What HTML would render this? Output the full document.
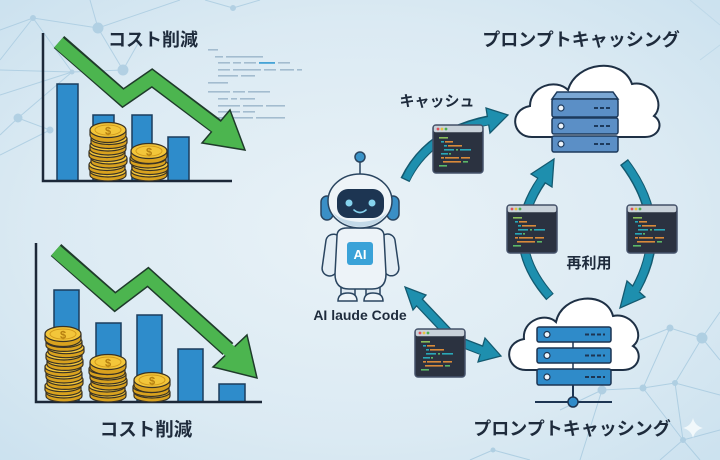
<!DOCTYPE html>
<html><head><meta charset="utf-8">
<style>
html,body{margin:0;padding:0;background:#dcebf4;}
svg{display:block;}
.t{font-family:"Liberation Sans","Noto Sans CJK JP",sans-serif;font-weight:bold;fill:#1e2b3c;}
</style></head>
<body>
<svg width="720" height="460" viewBox="0 0 720 460" xmlns="http://www.w3.org/2000/svg">
<defs>
<radialGradient id="bg" cx="50%" cy="50%" r="75%">
<stop offset="0" stop-color="#e9f2f7"/>
<stop offset="0.6" stop-color="#dbeaf3"/>
<stop offset="1" stop-color="#c9e0ee"/>
</radialGradient>
<g id="coin">
<ellipse cx="0" cy="4" rx="18" ry="6" fill="#d9a21e" stroke="#3a3325" stroke-width="1.2"/>
<rect x="-18" y="0" width="36" height="4" fill="#d9a21e"/>
<line x1="-18" y1="0" x2="-18" y2="4" stroke="#3a3325" stroke-width="1.2"/>
<line x1="18" y1="0" x2="18" y2="4" stroke="#3a3325" stroke-width="1.2"/>
<ellipse cx="0" cy="0" rx="18" ry="6" fill="#f3c63a" stroke="#3a3325" stroke-width="1.2"/>
</g>
<g id="ctop">
<ellipse cx="0" cy="5" rx="18" ry="7.5" fill="#d9a21e" stroke="#3a3325" stroke-width="1.2"/>
<rect x="-18" y="0" width="36" height="5" fill="#d9a21e"/>
<line x1="-18" y1="0" x2="-18" y2="5" stroke="#3a3325" stroke-width="1.2"/>
<line x1="18" y1="0" x2="18" y2="5" stroke="#3a3325" stroke-width="1.2"/>
<ellipse cx="0" cy="0" rx="18" ry="7.5" fill="#f3c63a" stroke="#3a3325" stroke-width="1.2"/>
<ellipse cx="0" cy="0" rx="13" ry="5" fill="none" stroke="#d29a1c" stroke-width="1"/>
</g>
<g id="win">
<rect x="0" y="0" width="50" height="48" rx="3" fill="#2b3240" stroke="#45526a" stroke-width="1.5"/>
<rect x="0.8" y="0.8" width="48.4" height="6.5" rx="2" fill="#c8d1d9"/>
<circle cx="5" cy="4" r="1.4" fill="#e0525a"/>
<circle cx="9" cy="4" r="1.4" fill="#e8c040"/>
<circle cx="13" cy="4" r="1.4" fill="#4cb050"/>
<rect x="6" y="12" width="9" height="1.6" fill="#8bbf5a"/>
<rect x="8" y="16" width="3" height="1.6" fill="#2aa8b8"/><rect x="12" y="16" width="8" height="1.6" fill="#d98a3a"/>
<rect x="11" y="20" width="3" height="1.6" fill="#2aa8b8"/><rect x="15" y="20" width="14" height="1.6" fill="#d98a3a"/>
<rect x="11" y="24" width="10" height="1.6" fill="#2aa8b8"/><rect x="23" y="24" width="2" height="1.6" fill="#5cb868"/><rect x="27" y="24" width="11" height="1.6" fill="#2aa8b8"/>
<rect x="8" y="28" width="7" height="1.6" fill="#2aa8b8"/><rect x="16" y="28" width="2" height="1.6" fill="#5cb868"/>
<rect x="8" y="32" width="3" height="1.6" fill="#d98a3a"/><rect x="12" y="32" width="14" height="1.6" fill="#d98a3a"/><rect x="28" y="32" width="9" height="1.6" fill="#d98a3a"/>
<rect x="10" y="36" width="18" height="1.6" fill="#d98a3a"/><rect x="30" y="36" width="5" height="1.6" fill="#5cb868"/>
<rect x="6" y="40" width="8" height="1.6" fill="#5cb868"/>
</g>
</defs>

<rect width="720" height="460" fill="url(#bg)"/>

<!-- network top-left -->
<g stroke="#a9cbe0" stroke-width="1" fill="#a9cbe0" opacity="0.8">
<line x1="0" y1="30" x2="33" y2="18"/><line x1="33" y1="18" x2="98" y2="28"/><line x1="98" y1="28" x2="180" y2="0"/>
<line x1="33" y1="18" x2="0" y2="60"/><line x1="98" y1="28" x2="123" y2="70"/><line x1="98" y1="28" x2="90" y2="0"/>
<line x1="123" y1="70" x2="72" y2="72"/><line x1="72" y1="72" x2="0" y2="95"/><line x1="72" y1="72" x2="18" y2="118"/>
<line x1="18" y1="118" x2="50" y2="130"/><line x1="18" y1="118" x2="0" y2="135"/><line x1="123" y1="70" x2="140" y2="40"/>
<line x1="0" y1="70" x2="72" y2="72"/><line x1="50" y1="130" x2="0" y2="155"/><line x1="33" y1="18" x2="72" y2="72"/>
<line x1="233" y1="8" x2="205" y2="0"/><line x1="233" y1="8" x2="260" y2="0"/>
<circle cx="33" cy="18" r="2.5"/><circle cx="98" cy="28" r="5"/><circle cx="123" cy="70" r="5"/><circle cx="72" cy="72" r="2"/>
<circle cx="18" cy="118" r="4"/><circle cx="50" cy="130" r="3"/><circle cx="233" cy="8" r="2.5"/>
</g>
<!-- network top-right faint -->
<g stroke="#b7d4e6" stroke-width="1" opacity="0.7">
<line x1="690" y1="0" x2="720" y2="25"/><line x1="700" y1="60" x2="720" y2="45"/>
</g>
<!-- network bottom-right -->
<g stroke="#a9cbe0" stroke-width="1" fill="#a9cbe0" opacity="0.85">
<line x1="670" y1="328" x2="702" y2="338"/><line x1="670" y1="328" x2="643" y2="388"/><line x1="702" y1="338" x2="720" y2="312"/>
<line x1="702" y1="338" x2="675" y2="383"/><line x1="675" y1="383" x2="720" y2="395"/><line x1="643" y1="388" x2="675" y2="383"/>
<line x1="602" y1="390" x2="643" y2="388"/><line x1="643" y1="388" x2="683" y2="440"/><line x1="683" y1="440" x2="720" y2="430"/>
<line x1="683" y1="440" x2="660" y2="460"/><line x1="675" y1="383" x2="683" y2="440"/><line x1="602" y1="390" x2="580" y2="460"/>
<line x1="702" y1="338" x2="720" y2="360"/><line x1="670" y1="328" x2="640" y2="340"/><line x1="683" y1="440" x2="700" y2="460"/>
<line x1="493" y1="450" x2="530" y2="460"/><line x1="493" y1="450" x2="470" y2="460"/><line x1="602" y1="390" x2="560" y2="410"/>
<circle cx="670" cy="328" r="3"/><circle cx="702" cy="338" r="5"/><circle cx="675" cy="383" r="2.5"/><circle cx="643" cy="388" r="3"/>
<circle cx="602" cy="390" r="4"/><circle cx="683" cy="440" r="2.5"/><circle cx="493" cy="450" r="2"/>
</g>
<path d="M693 418 Q695 426 703 428 Q695 430 693 438 Q691 430 683 428 Q691 426 693 418 Z" fill="#f4f9fc" opacity="0.9"/>

<!-- faint code text -->
<g fill="#a3bccf">
<rect x="208" y="49" width="10" height="1.6"/>
<rect x="215" y="56" width="8" height="1.6"/><rect x="226" y="56" width="37" height="1.6"/>
<rect x="218" y="62" width="12" height="1.6"/><rect x="233" y="62" width="8" height="1.6"/><rect x="244" y="62" width="12" height="1.6"/><rect x="259" y="62" width="16" height="1.8" fill="#45a3d6"/><rect x="278" y="62" width="12" height="1.6"/>
<rect x="218" y="69" width="12" height="1.6"/><rect x="233" y="69" width="28" height="1.6"/><rect x="264" y="69" width="12" height="1.6"/><rect x="280" y="69" width="14" height="1.6"/><rect x="297" y="69" width="5" height="1.6"/>
<rect x="218" y="75" width="20" height="1.6"/><rect x="241" y="75" width="14" height="1.6"/>
<rect x="208" y="82" width="20" height="1.6"/>
<rect x="208" y="91" width="22" height="1.6"/><rect x="233" y="91" width="12" height="1.6"/><rect x="248" y="91" width="22" height="1.6"/>
<rect x="218" y="98" width="10" height="1.6"/><rect x="231" y="98" width="6" height="1.6"/><rect x="240" y="98" width="15" height="1.6"/>
<rect x="218" y="105" width="22" height="1.6"/><rect x="243" y="105" width="20" height="1.6"/><rect x="266" y="105" width="19" height="1.6"/>
<rect x="218" y="111" width="22" height="1.6"/><rect x="243" y="111" width="12" height="1.6"/>
<rect x="218" y="117" width="10" height="1.6"/><rect x="231" y="117" width="22" height="1.6"/><rect x="256" y="117" width="29" height="1.6"/>
</g>

<!-- TOP-LEFT CHART -->
<text class="t" x="153" y="46" font-size="18" text-anchor="middle">コスト削減</text>
<g fill="#2e8ccb" stroke="#1b3d5c" stroke-width="1.5">
<rect x="57" y="84" width="21" height="97"/>
<rect x="93" y="115" width="21" height="66"/>
<rect x="132" y="115" width="20" height="66"/>
<rect x="168" y="137" width="21" height="44"/>
</g>
<path d="M43 33 V181 H232" fill="none" stroke="#1c2838" stroke-width="2.5"/>
<!-- green arrow top -->
<path d="M59 42 L123 98 L152 78 L220 129" fill="none" stroke="#1f3b2b" stroke-width="16" stroke-linejoin="miter"/>
<polygon points="230,110 245,150 202,143" fill="#4cb54f" stroke="#1f3b2b" stroke-width="1.5" stroke-linejoin="miter"/>
<path d="M58.5 42.5 L123 98 L152 78 L222 131" fill="none" stroke="#4cb54f" stroke-width="13" stroke-linejoin="miter"/>
<!-- coins top-left -->
<use href="#coin" x="108" y="171"/><use href="#coin" x="107" y="164.5"/><use href="#coin" x="109" y="158"/>
<use href="#coin" x="107" y="151.5"/><use href="#coin" x="108" y="145"/><use href="#coin" x="109" y="138.5"/>
<use href="#ctop" x="108" y="130"/>
<text x="108" y="134.5" font-family="Liberation Sans,sans-serif" font-weight="bold" font-size="11" fill="#b57f10" text-anchor="middle">$</text>
<use href="#coin" x="149" y="171"/><use href="#coin" x="150" y="164.5"/><use href="#coin" x="148" y="158"/>
<use href="#ctop" x="149" y="151"/>
<text x="149" y="155.5" font-family="Liberation Sans,sans-serif" font-weight="bold" font-size="11" fill="#b57f10" text-anchor="middle">$</text>

<!-- BOTTOM-LEFT CHART -->
<g fill="#2e8ccb" stroke="#1b3d5c" stroke-width="1.5">
<rect x="54" y="290" width="25" height="112"/>
<rect x="96" y="323" width="25" height="79"/>
<rect x="137" y="315" width="25" height="87"/>
<rect x="178" y="349" width="25" height="53"/>
<rect x="219" y="384" width="26" height="18"/>
</g>
<path d="M36 243 V402 H262" fill="none" stroke="#1c2838" stroke-width="2.5"/>
<path d="M56 250 L115 302 L148 277 L228 349" fill="none" stroke="#1f3b2b" stroke-width="16" stroke-linejoin="miter"/>
<polygon points="247,335 257,378 213,367" fill="#4cb54f" stroke="#1f3b2b" stroke-width="1.5"/>
<path d="M55.5 250.5 L115 302 L148 277 L231 352" fill="none" stroke="#4cb54f" stroke-width="13" stroke-linejoin="miter"/>
<!-- coins bottom-left -->
<use href="#coin" x="64" y="392"/><use href="#coin" x="63" y="385.7"/><use href="#coin" x="65" y="379.4"/>
<use href="#coin" x="64" y="373"/><use href="#coin" x="63" y="366.7"/><use href="#coin" x="65" y="360.4"/>
<use href="#coin" x="64" y="354"/><use href="#coin" x="66" y="347.7"/><use href="#coin" x="64" y="341.4"/>
<use href="#ctop" x="63" y="334"/>
<text x="63" y="338.5" font-family="Liberation Sans,sans-serif" font-weight="bold" font-size="11" fill="#b57f10" text-anchor="middle">$</text>
<use href="#coin" x="108" y="392"/><use href="#coin" x="107" y="386"/><use href="#coin" x="109" y="380"/>
<use href="#coin" x="108" y="374"/><use href="#coin" x="107" y="368.5"/>
<use href="#ctop" x="108" y="362"/>
<text x="108" y="366.5" font-family="Liberation Sans,sans-serif" font-weight="bold" font-size="11" fill="#b57f10" text-anchor="middle">$</text>
<use href="#coin" x="152" y="392"/><use href="#coin" x="151" y="386.5"/>
<use href="#ctop" x="152" y="380"/>
<text x="152" y="384.5" font-family="Liberation Sans,sans-serif" font-weight="bold" font-size="11" fill="#b57f10" text-anchor="middle">$</text>
<text class="t" x="146" y="436" font-size="18.5" text-anchor="middle">コスト削減</text>

<!-- TEAL ARROWS -->
<g stroke-linecap="butt">
<path d="M405 180 Q428 132 490 120" fill="none" stroke="#145a70" stroke-width="10"/>
<polygon points="486,108 508,115 490,133" fill="#1e8fae" stroke="#145a70" stroke-width="1.3"/>
<path d="M406 179 Q428 132 492 120" fill="none" stroke="#1e8fae" stroke-width="7.5"/>

<path d="M550 297 Q500 240 542 180" fill="none" stroke="#145a70" stroke-width="10"/>
<polygon points="531,174 554,159 552,187" fill="#1e8fae" stroke="#145a70" stroke-width="1.3"/>
<path d="M549.5 296 Q500 240 543 178" fill="none" stroke="#1e8fae" stroke-width="7.5"/>

<path d="M624 162 Q672 225 636 289" fill="none" stroke="#145a70" stroke-width="10"/>
<polygon points="627,281 645,297 620,308" fill="#1e8fae" stroke="#145a70" stroke-width="1.3"/>
<path d="M625 163 Q672 225 635 291" fill="none" stroke="#1e8fae" stroke-width="7.5"/>

<path d="M419 302 L455 340 L481 350" fill="none" stroke="#145a70" stroke-width="10" stroke-linejoin="round"/>
<polygon points="405,287 426,295 413,310" fill="#1e8fae" stroke="#145a70" stroke-width="1.3"/>
<polygon points="501,356 485,338 478,362" fill="#1e8fae" stroke="#145a70" stroke-width="1.3"/>
<path d="M417 300 L455 340 L483 351" fill="none" stroke="#1e8fae" stroke-width="7.5" stroke-linejoin="round"/>
</g>

<!-- code windows -->
<use href="#win" x="433" y="125"/>
<use href="#win" x="507" y="205"/>
<use href="#win" x="627" y="205"/>
<use href="#win" x="415" y="329"/>

<!-- TOP CLOUD -->
<path d="M532 137 C512 137 508 110 530 106 C530 86 556 78 568 90 C576 62 622 56 632 84 C652 80 666 104 654 116 C664 122 660 137 645 137 Z" fill="#ffffff" stroke="#1e3045" stroke-width="2"/>
<g stroke="#1d3a5c" stroke-width="1.5">
<polygon points="557,92 613,92 618,99 552,99" fill="#7aa7d4"/>
<rect x="552" y="99" width="66" height="18" rx="2" fill="#5b8fc6"/>
<rect x="552" y="118" width="66" height="16" rx="2" fill="#5b8fc6"/>
<rect x="552" y="136" width="66" height="16" rx="2" fill="#5b8fc6"/>
</g>
<g fill="#eef4fa" stroke="#1d3a5c" stroke-width="1.2">
<circle cx="561" cy="108" r="3"/><circle cx="561" cy="126" r="3"/><circle cx="561" cy="144" r="3"/>
</g>
<g stroke="#1d3a5c" stroke-width="2" stroke-dasharray="4 2">
<line x1="594" y1="108" x2="612" y2="108"/><line x1="594" y1="126" x2="612" y2="126"/><line x1="594" y1="144" x2="612" y2="144"/>
</g>
<text class="t" x="581" y="46" font-size="18" text-anchor="middle">プロンプトキャッシング</text>

<!-- BOTTOM CLOUD -->
<path d="M526 370 C506 370 502 343 524 339 C522 320 546 312 556 322 C562 294 606 290 613 316 C633 312 646 336 633 346 C643 352 640 370 623 370 Z" fill="#ffffff" stroke="#1e3045" stroke-width="2"/>
<g stroke="#1d3552" stroke-width="1.5" fill="#2f8bc9">
<rect x="537" y="327" width="74" height="15" rx="2"/>
<rect x="537" y="348" width="74" height="15" rx="2"/>
<rect x="537" y="369" width="74" height="16" rx="2"/>
</g>
<line x1="573" y1="342" x2="573" y2="348" stroke="#1d3552" stroke-width="1.5"/>
<line x1="573" y1="363" x2="573" y2="369" stroke="#1d3552" stroke-width="1.5"/>
<g fill="#eef4fa" stroke="#1d3552" stroke-width="1.2">
<circle cx="547" cy="334.5" r="3"/><circle cx="547" cy="355.5" r="3"/><circle cx="547" cy="377" r="3"/>
</g>
<g stroke="#1d3552" stroke-width="2" stroke-dasharray="4 2">
<line x1="585" y1="334.5" x2="605" y2="334.5"/><line x1="585" y1="355.5" x2="605" y2="355.5"/><line x1="585" y1="377" x2="605" y2="377"/>
</g>
<line x1="573" y1="385" x2="573" y2="398" stroke="#1d3552" stroke-width="2"/>
<line x1="535" y1="402" x2="612" y2="402" stroke="#1d3552" stroke-width="2"/>
<circle cx="573" cy="402" r="5" fill="#2f8bc9" stroke="#1d3552" stroke-width="1.5"/>
<text class="t" x="572" y="435" font-size="18" text-anchor="middle">プロンプトキャッシング</text>

<!-- labels -->
<text class="t" x="437" y="106" font-size="15" text-anchor="middle">キャッシュ</text>
<text class="t" x="589" y="268" font-size="15" text-anchor="middle">再利用</text>

<!-- ROBOT -->
<g stroke="#2a4560" stroke-width="1.5">
<line x1="360" y1="161" x2="360" y2="174"/>
<circle cx="360" cy="157" r="5" fill="#3a93c8"/>
<!-- legs -->
<rect x="341" y="282" width="14" height="17" rx="3" fill="#dfe9f1"/>
<rect x="366" y="282" width="14" height="17" rx="3" fill="#dfe9f1"/>
<path d="M338 301 Q338 293 348 293 Q357 293 357 301 Z" fill="#eef4f8"/>
<path d="M364 301 Q364 293 373 293 Q383 293 383 301 Z" fill="#eef4f8"/>
<!-- arms -->
<rect x="324" y="234" width="15" height="42" rx="7.5" fill="#e3edf4" transform="rotate(8 331 255)"/>
<rect x="382" y="234" width="15" height="42" rx="7.5" fill="#e3edf4" transform="rotate(-8 389 255)"/>
<!-- body -->
<path d="M337 236 Q337 228 347 228 L374 228 Q384 228 384 236 L386 274 Q386 289 372 289 L349 289 Q335 289 335 274 Z" fill="#edf3f8"/>
<!-- ears -->
<rect x="321" y="196" width="12" height="24" rx="6" fill="#3a8fc6"/>
<rect x="387" y="196" width="12" height="24" rx="6" fill="#3a8fc6"/>
<!-- head -->
<ellipse cx="360" cy="201" rx="32" ry="27" fill="#eef4f8"/>
</g>
<path d="M333 212 Q340 226 360 227 Q380 226 387 212 Q380 221 360 222 Q340 221 333 212 Z" fill="#c3d9e8"/>
<rect x="337" y="189" width="47" height="29" rx="11" fill="#1d3552"/>
<circle cx="349" cy="203" r="3.5" fill="#86d3ee"/>
<circle cx="372" cy="203" r="3.5" fill="#86d3ee"/>
<path d="M354 210 Q360 215 366 210" fill="none" stroke="#86d3ee" stroke-width="1.6" stroke-linecap="round"/>
<rect x="347" y="242" width="26" height="23" rx="3" fill="#3aa2d8"/>
<text x="360" y="259" font-family="Liberation Sans,sans-serif" font-weight="bold" font-size="13" fill="#ffffff" text-anchor="middle">AI</text>
<text class="t" x="360" y="320" font-size="14" text-anchor="middle">AI laude Code</text>
</svg>
</body></html>
